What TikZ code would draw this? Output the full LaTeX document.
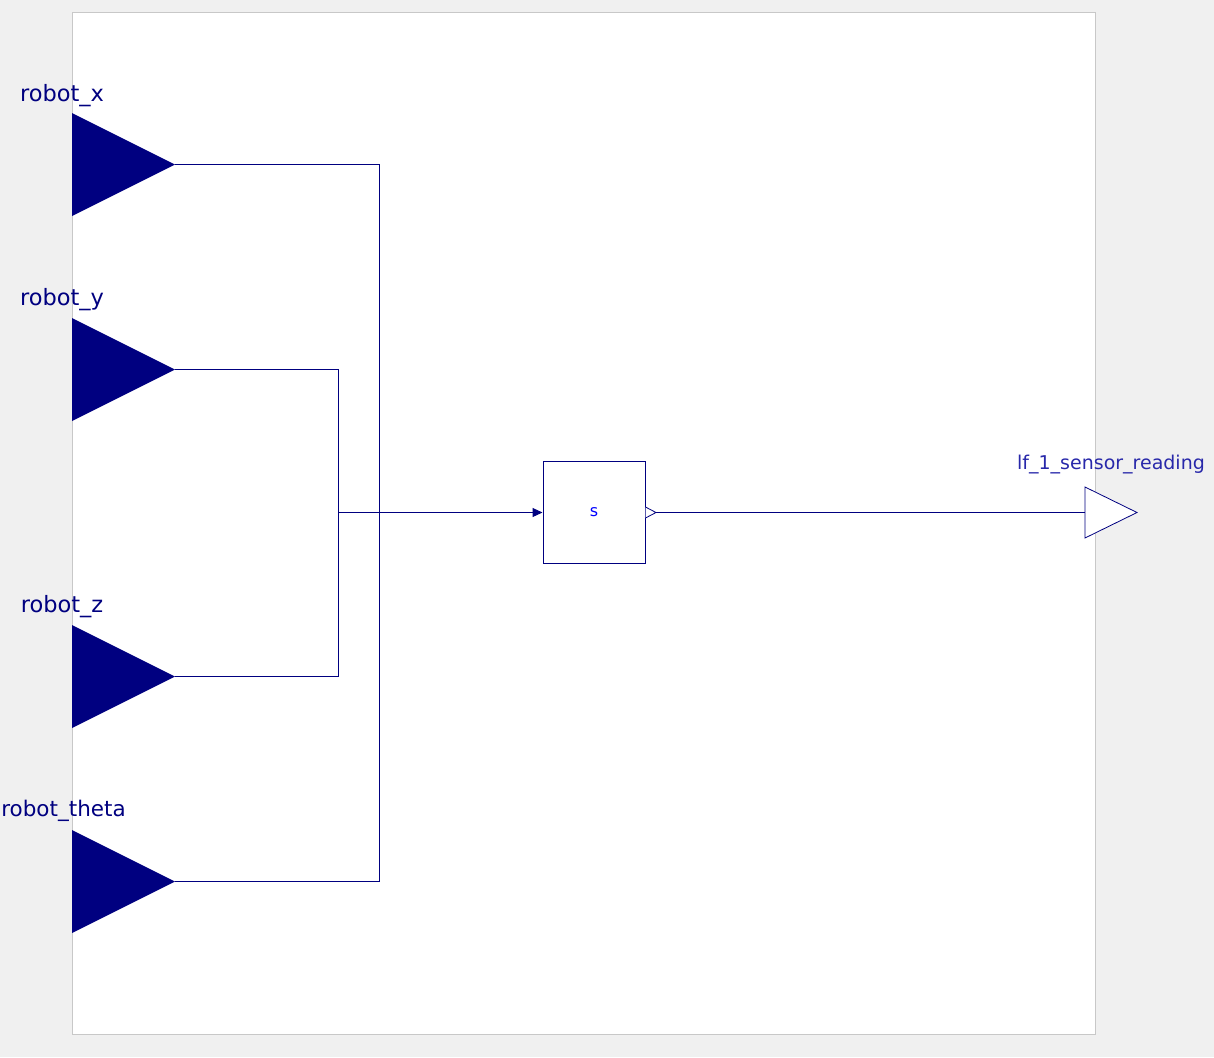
\documentclass[tikz,border=0pt]{standalone}
\usepackage{fontspec}
\setmainfont{DejaVu Sans}
\usetikzlibrary{arrows.meta}
\definecolor{bg}{RGB}{240,240,240}
\definecolor{frame}{RGB}{200,200,200}
\definecolor{navy}{RGB}{0,0,128}
\definecolor{lblue}{RGB}{40,40,170}
\definecolor{sblue}{RGB}{0,0,255}
\tikzset{
  wire/.style={draw=navy, line width=1pt},
  portlabel/.style={text=navy, font=\fontsize{22.5}{22.5}\selectfont, anchor=base, inner sep=0pt},
}
\begin{document}
\begin{tikzpicture}[x=1pt,y=-1pt]
\useasboundingbox (0,0) rectangle (1214,1057);
\fill[bg] (0,0) rectangle (1214,1057);
\draw[frame, fill=white, line width=1pt] (72.5,12.5) rectangle (1095.5,1034.5);

% input ports
\foreach \n/\t in {x/113, y/318, z/625, theta/830}{
  \fill[navy] (72,\t) -- (175,\t+51.5) -- (72,\t+103) -- cycle;
  \coordinate (tip\n) at (175,\t+51.5);
}
\node[portlabel] (lx) at (62,101) {robot\_x};
\node[portlabel] (ly) at (62,305) {robot\_y};
\node[portlabel] (lz) at (62,612) {robot\_z};
\node[portlabel, font=\fontsize{21.5}{21.5}\selectfont] (lt) at (63.5,816) {robot\_theta};

% block
\node[draw=navy, line width=1pt, minimum width=102pt, minimum height=102pt, inner sep=0pt, text=sblue, font=\fontsize{16}{16}\selectfont] (blk) at (594,512.5) {s};
\coordinate (outp) at (656,512.5);
\draw[navy, line width=0.8pt, fill=white] (blk.east |- 0,507) -- (outp) -- (blk.east |- 0,518);

% wires
\coordinate (jA) at (379,512.5);
\coordinate (jB) at (338,512.5);
\draw[wire] (tipx) -| (jA);
\draw[wire] (tiptheta) -| (jA);
\draw[wire] (tipy) -| (jB);
\draw[wire] (tipz) -| (jB);
\draw[wire, -{Triangle[length=10pt,width=9pt]}] (jB) -- (blk.west);

% output port
\coordinate (ot) at (1085,487);
\coordinate (ob) at (1085,538);
\coordinate (otip) at (1137,512.5);
\draw[navy, line width=0.8pt, fill=white] (ot) -- (otip) -- (ob) -- cycle;
\draw[wire] (outp) -- (1085,512.5);
\node[portlabel, text=lblue, font=\fontsize{19}{19}\selectfont] (lo) at (1111,469) {lf\_1\_sensor\_reading};
\end{tikzpicture}
\end{document}
